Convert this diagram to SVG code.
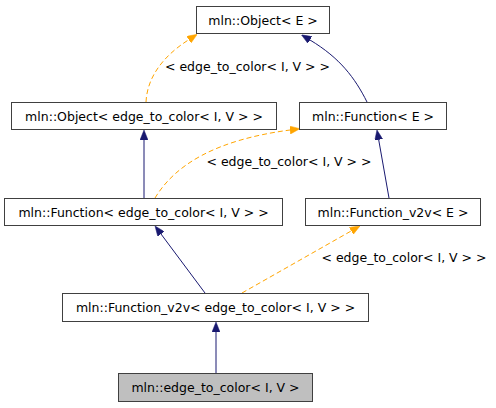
<svg xmlns="http://www.w3.org/2000/svg" width="496" height="408" viewBox="0 0 496 408">
<style>
text{font-family:"DejaVu Sans","Liberation Sans",sans-serif;font-size:12.5px;fill:#000}
.n rect{fill:#fff;stroke:#404040;stroke-width:1}
.n text{text-anchor:middle}
.g rect{fill:#bfbfbf}
.e{fill:none;stroke:#191970;stroke-width:1}
.t{fill:none;stroke:#ffa500;stroke-width:1;stroke-dasharray:5,3}
.lbl{text-anchor:middle}
</style>
<defs>
<marker id="an" viewBox="0 0 10 8" refX="0" refY="4" markerWidth="10" markerHeight="8" markerUnits="userSpaceOnUse" orient="auto">
<path d="M0,0 L10,4 L0,8 z" fill="#191970" stroke="#191970" stroke-width="0.5"/>
</marker>
<marker id="ao" viewBox="0 0 10 8" refX="0" refY="4" markerWidth="10" markerHeight="8" markerUnits="userSpaceOnUse" orient="auto">
<path d="M0,0 L10,4 L0,8 z" fill="#ffa500" stroke="#ffa500" stroke-width="0.5"/>
</marker>
</defs>
<g id="connectors">
<path class="t" d="M146,102 C147,80 160,58 188.8,39.7" marker-end="url(#ao)"/>
<path class="e" d="M367,102 C355,78 340,58 310,40" marker-end="url(#an)"/>
<path class="e" d="M144,198 L144,140" marker-end="url(#an)"/>
<path class="t" d="M155,198 C175,165 215,140 290,130" marker-end="url(#ao)"/>
<path class="e" d="M389,198 L378.7,139.8" marker-end="url(#an)"/>
<path class="e" d="M205,293 L161,234" marker-end="url(#an)"/>
<path class="t" d="M242,293 L351.3,230.9" marker-end="url(#ao)"/>
<path class="e" d="M216,374 L216,332" marker-end="url(#an)"/>
<text class="lbl" x="247.5" y="71">&lt; edge_to_color&lt; I, V &gt; &gt;</text>
<text class="lbl" x="289" y="166">&lt; edge_to_color&lt; I, V &gt; &gt;</text>
<text class="lbl" x="404" y="262">&lt; edge_to_color&lt; I, V &gt; &gt;</text>
</g>
<g id="n1" class="n"><rect x="196.5" y="6.5" width="133" height="27"/><text x="263" y="24.5">mln::Object&lt; E &gt;</text></g>
<g id="n2" class="n"><rect x="11.5" y="102.5" width="265" height="27"/><text x="144" y="120.5">mln::Object&lt; edge_to_color&lt; I, V &gt; &gt;</text></g>
<g id="n3" class="n"><rect x="299.5" y="102.5" width="147" height="27"/><text x="373" y="120.5">mln::Function&lt; E &gt;</text></g>
<g id="n4" class="n"><rect x="4.5" y="198.5" width="278" height="27"/><text x="143.5" y="216.5">mln::Function&lt; edge_to_color&lt; I, V &gt; &gt;</text></g>
<g id="n5" class="n"><rect x="305.5" y="198.5" width="175" height="27"/><text x="393" y="216.5">mln::Function_v2v&lt; E &gt;</text></g>
<g id="n6" class="n"><rect x="62.5" y="293.5" width="306" height="28"/><text x="215.5" y="312">mln::Function_v2v&lt; edge_to_color&lt; I, V &gt; &gt;</text></g>
<g id="n7" class="n g"><rect x="118.5" y="373.5" width="194" height="28"/><text x="215.5" y="392">mln::edge_to_color&lt; I, V &gt;</text></g>
</svg>
